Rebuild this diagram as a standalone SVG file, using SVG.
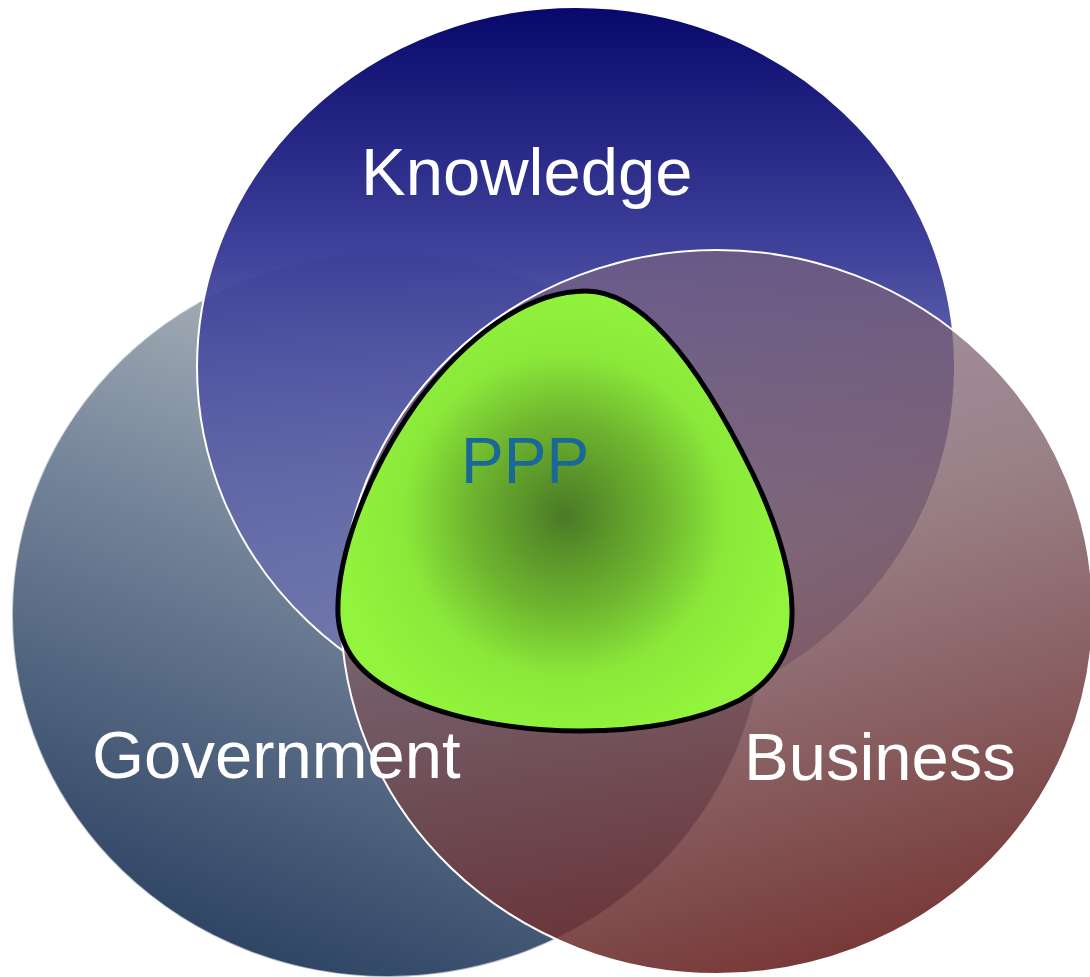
<svg xmlns="http://www.w3.org/2000/svg" width="1090" height="977" viewBox="0 0 1090 977">
<defs>
<style>
.lbl{font-family:"Liberation Sans",Arial,sans-serif;fill:#ffffff;font-size:67px}
.ppp{font-family:"Liberation Sans",Arial,sans-serif;fill:#1a6896;font-size:64px}
.edge{stroke:#ffffff;stroke-width:2}
</style>
<linearGradient id="gGov" gradientUnits="userSpaceOnUse" x1="420" y1="260" x2="170" y2="930">
<stop offset="0" stop-color="#b8bec0"/>
<stop offset="0.45" stop-color="#74849a"/>
<stop offset="1" stop-color="#2e4464"/>
</linearGradient>
<linearGradient id="gKno" gradientUnits="userSpaceOnUse" x1="0" y1="7" x2="0" y2="727">
<stop offset="0" stop-color="#08086c" stop-opacity="1"/>
<stop offset="0.33" stop-color="#383a96" stop-opacity="0.97"/>
<stop offset="1" stop-color="#7c80bc" stop-opacity="0.6"/>
</linearGradient>
<linearGradient id="gBus" gradientUnits="userSpaceOnUse" x1="650" y1="260" x2="860" y2="970">
<stop offset="0" stop-color="#7a6480" stop-opacity="0.68"/>
<stop offset="0.4" stop-color="#7a5a62" stop-opacity="0.76"/>
<stop offset="1" stop-color="#6a2422" stop-opacity="0.92"/>
</linearGradient>
<radialGradient id="gPPP" gradientUnits="userSpaceOnUse" cx="565" cy="515" r="230">
<stop offset="0" stop-color="#4a7a26"/>
<stop offset="0.42" stop-color="#6fb62f"/>
<stop offset="0.7" stop-color="#8ae83a"/>
<stop offset="1" stop-color="#92f43c"/>
</radialGradient>
</defs>
<rect width="1090" height="977" fill="#ffffff"/>
<g id="government">
<ellipse cx="388" cy="615" rx="376" ry="362" fill="url(#gGov)" class="edge" stroke-opacity="0.6"/>
</g>
<g id="knowledge">
<ellipse cx="576" cy="367" rx="379" ry="360" fill="url(#gKno)" class="edge"/>
</g>
<g id="business">
<ellipse cx="717" cy="612" rx="376" ry="362" fill="url(#gBus)" class="edge"/>
</g>
<g id="connectors"></g>
<g id="ppp">
<path d="M586,291 C645,291 702,370 752,472 C781,532 793,582 792,615 C792,650 775,680 740,700 C690,725 630,731 580,731 C520,731 450,720 400,695 C360,675 340,650 338,615 C336,558 366,475 416,404 C466,336 528,291 586,291 Z" fill="url(#gPPP)" stroke="#000000" stroke-width="5"/>
<text class="ppp" x="461" y="483">PPP</text>
</g>
<g id="labels">
<text class="lbl" x="361" y="195">Knowledge</text>
<text class="lbl" x="92" y="778">Government</text>
<text class="lbl" x="744" y="780">Business</text>
</g>
</svg>
